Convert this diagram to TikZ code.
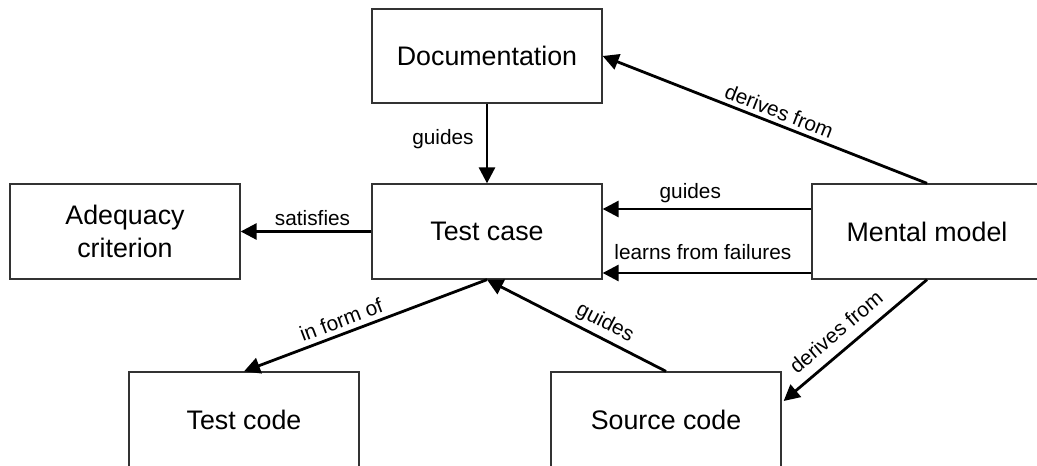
\documentclass[tikz,border=0pt]{standalone}
\usepackage{fontspec}
\setmainfont{Liberation Sans}
\usetikzlibrary{arrows.meta,calc}
\begin{document}
\begin{tikzpicture}[x=1pt,y=-1pt,
  box/.style={draw=black!80,line width=1.3pt,rectangle,minimum width=230pt,minimum height=95pt,inner sep=0pt,align=center,font=\fontsize{26.8}{32.3}\selectfont},
  conn/.style={line width=2.8pt,-{Triangle[length=16pt,width=16pt]}},
  lbl/.style={font=\fontsize{20.8}{24}\selectfont,inner sep=4pt}]
\useasboundingbox (0,0) rectangle (1037,466);
\clip (0,0) rectangle (1037,466);
\node[box,minimum height=94pt] (doc) at (487,56) {Documentation};
\node[box] (adeq) at (125,231.5) {Adequacy\\criterion};
\node[box] (tc) at (487,231.5) {Test case};
\node[box] (mm) at (927,231.5) {Mental model};
\node[box] (tcode) at (244,419.5) {Test code};
\node[box] (scode) at (666,419.5) {Source code};
\coordinate (mmg) at ($(mm.west)+(0,-22.5)$);
\coordinate (tcg) at ($(tc.east)+(0,-22.5)$);
\coordinate (mml) at ($(mm.west)+(0,41.5)$);
\coordinate (tcl) at ($(tc.east)+(0,41.5)$);
\coordinate (sce) at ($(scode.east)+(2,-18.5)$);
\draw[conn] (doc.south) -- node[lbl,left=8pt,pos=0.45] {guides} (tc.north);
\draw[conn] (tc.west) -- node[lbl,above,pos=0.45] {satisfies} (adeq.east);
\draw[conn] (mmg) -- node[lbl,above=1pt,pos=0.58] {guides} (tcg);
\draw[conn] (mml) -- node[lbl,above=8pt,pos=0.52] {learns from failures} (tcl);
\draw[conn] (tc.south) -- node[lbl,sloped,above=1pt,pos=0.58] {in form of} (tcode.north);
\draw[conn] (scode.north) -- node[lbl,sloped,above,pos=0.38] {guides} (tc.south);
\draw[conn] (mm.south) -- node[lbl,sloped,above=6pt,pos=0.55] {derives from} (sce);
\draw[conn] (mm.north) -- node[lbl,sloped,above,pos=0.47] {derives from} (doc.east);
\end{tikzpicture}
\end{document}
